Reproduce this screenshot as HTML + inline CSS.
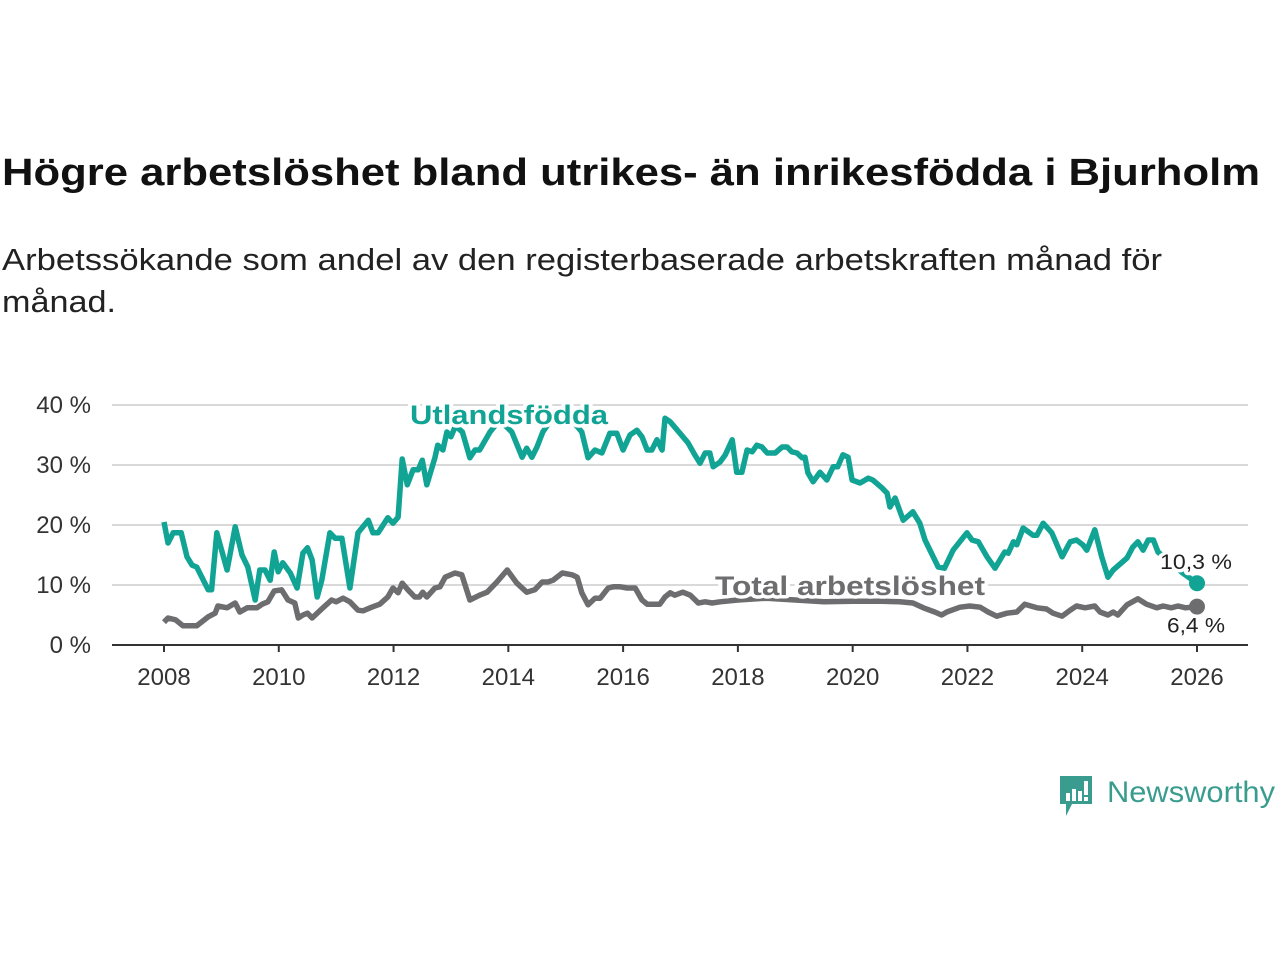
<!DOCTYPE html>
<html><head><meta charset="utf-8"><style>
html,body{margin:0;padding:0;background:#fff;width:1280px;height:960px;overflow:hidden}
svg{display:block}
</style></head><body>
<svg id="chart" width="1280" height="960" viewBox="0 0 1280 960" font-family="'Liberation Sans', sans-serif">
<text x="2" y="185" font-size="38" font-weight="bold" fill="#111" textLength="1258" lengthAdjust="spacingAndGlyphs">Högre arbetslöshet bland utrikes- än inrikesfödda i Bjurholm</text>
<text x="2" y="270" font-size="31" fill="#222" textLength="1160" lengthAdjust="spacingAndGlyphs">Arbetssökande som andel av den registerbaserade arbetskraften månad för</text>
<text x="2" y="312" font-size="31" fill="#222" textLength="114" lengthAdjust="spacingAndGlyphs">månad.</text>
<g id="grid"></g><g id="xaxis"></g><g id="lines"></g><g id="labels"></g>
<g>
<path d="M1060 776 h32 v28 h-20 l-6 12 v-12 h-6 z" fill="#3a9c8f"/>
<rect x="1066" y="793" width="4" height="8" fill="#fff"/><rect x="1072" y="789" width="4" height="12" fill="#fff"/><rect x="1078" y="791" width="4" height="10" fill="#fff"/><rect x="1084" y="781" width="4" height="14" fill="#fff"/><rect x="1084" y="797" width="4" height="4" fill="#fff"/>
<text x="1107" y="802" font-size="30" fill="#3a9c8f" textLength="168" lengthAdjust="spacingAndGlyphs">Newsworthy</text>
</g>
</svg>
<script>
const yTicks=[0,10,20,30,40];
const xTicks=[2008,2010,2012,2014,2016,2018,2020,2022,2024,2026];
const foreignT=[2008.0,2008.07,2008.16,2008.3,2008.4,2008.49,2008.57,2008.77,2008.83,2008.92,2009.1,2009.24,2009.36,2009.46,2009.59,2009.67,2009.76,2009.85,2009.92,2009.99,2010.07,2010.2,2010.32,2010.42,2010.5,2010.58,2010.67,2010.75,2010.89,2010.98,2011.1,2011.24,2011.38,2011.56,2011.64,2011.73,2011.9,2011.99,2012.08,2012.15,2012.24,2012.34,2012.43,2012.5,2012.58,2012.72,2012.77,2012.86,2012.93,2013.0,2013.08,2013.2,2013.33,2013.42,2013.5,2013.68,2013.85,2014.06,2014.24,2014.32,2014.41,2014.5,2014.6,2014.78,2014.95,2015.15,2015.28,2015.39,2015.51,2015.63,2015.77,2015.89,2016.0,2016.12,2016.24,2016.33,2016.42,2016.5,2016.59,2016.68,2016.73,2016.82,2016.99,2017.13,2017.25,2017.34,2017.43,2017.51,2017.57,2017.69,2017.78,2017.9,2017.98,2018.07,2018.16,2018.25,2018.33,2018.42,2018.51,2018.65,2018.77,2018.86,2018.94,2019.03,2019.12,2019.17,2019.22,2019.31,2019.43,2019.55,2019.66,2019.74,2019.83,2019.92,2019.99,2020.13,2020.27,2020.35,2020.51,2020.6,2020.65,2020.74,2020.88,2021.05,2021.17,2021.26,2021.49,2021.6,2021.75,2021.99,2022.08,2022.19,2022.34,2022.48,2022.65,2022.71,2022.8,2022.86,2022.97,2023.14,2023.21,2023.32,2023.47,2023.65,2023.79,2023.9,2024.01,2024.08,2024.22,2024.34,2024.45,2024.54,2024.78,2024.88,2024.97,2025.06,2025.15,2025.24,2025.32,2025.5,2025.75,2026.0];
const foreignV=[20.5,17,18.7,18.7,14.7,13.3,13,9.2,9.2,18.7,12.5,19.7,15,13,7.5,12.5,12.5,10.8,15.5,12.2,13.7,12,9.5,15.3,16.2,14.2,8,10.8,18.7,17.8,17.8,9.5,18.7,20.8,18.7,18.7,21.2,20.3,21.3,31,26.7,29.2,29.2,30.8,26.7,31.2,33.3,32.5,35.5,34.7,36.5,35.5,31.2,32.5,32.5,35.5,37.5,35.5,31.3,32.8,31.3,33,35.5,38,39,37,35.5,31.2,32.5,32,35.3,35.3,32.5,35,35.8,34.7,32.5,32.5,34.2,32.5,37.8,37.2,35.3,33.7,31.7,30.3,32,32,29.7,30.5,31.7,34.2,28.8,28.8,32.5,32.2,33.3,33,32,32,33,33,32.2,32,31.2,31.3,28.7,27.2,28.8,27.5,29.7,29.7,31.7,31.3,27.5,27,27.8,27.5,26.2,25.3,23,24.5,20.8,22.2,20.3,17.5,13,12.8,15.8,18.7,17.5,17.2,14.7,12.8,15.5,15.3,17.2,16.7,19.5,18.3,18.3,20.3,18.7,14.7,17.2,17.5,16.7,15.8,19.2,14.7,11.3,12.5,14.5,16.3,17.2,15.8,17.5,17.5,15.5,14,12,10.3];
const totalT=[2008.0,2008.07,2008.2,2008.33,2008.57,2008.77,2008.89,2008.94,2009.1,2009.24,2009.32,2009.45,2009.62,2009.71,2009.81,2009.92,2010.05,2010.16,2010.28,2010.34,2010.42,2010.5,2010.58,2010.77,2010.92,2011.0,2011.12,2011.24,2011.38,2011.47,2011.62,2011.76,2011.9,2011.99,2012.08,2012.15,2012.25,2012.37,2012.45,2012.51,2012.58,2012.72,2012.81,2012.9,2013.07,2013.19,2013.33,2013.5,2013.63,2013.8,2013.98,2014.15,2014.32,2014.46,2014.59,2014.69,2014.78,2014.94,2015.11,2015.2,2015.28,2015.39,2015.51,2015.6,2015.74,2015.83,2015.95,2016.07,2016.21,2016.33,2016.42,2016.52,2016.64,2016.73,2016.82,2016.9,2017.04,2017.17,2017.31,2017.43,2017.55,2017.69,2018.0,2018.5,2019.0,2019.5,2020.0,2020.5,2020.82,2021.05,2021.23,2021.43,2021.55,2021.64,2021.87,2022.04,2022.22,2022.36,2022.51,2022.69,2022.86,2023.0,2023.21,2023.38,2023.49,2023.65,2023.79,2023.9,2024.05,2024.22,2024.31,2024.45,2024.54,2024.62,2024.78,2024.97,2025.12,2025.3,2025.41,2025.55,2025.67,2025.8,2026.0];
const totalV=[3.8,4.5,4.2,3.2,3.2,4.7,5.3,6.5,6.2,7,5.5,6.2,6.2,6.8,7.2,9,9.2,7.5,7,4.5,5,5.3,4.5,6.2,7.5,7.2,7.8,7.2,5.8,5.7,6.3,6.8,8,9.5,8.7,10.3,9.2,8,8,8.8,8,9.5,9.7,11.3,12,11.7,7.5,8.3,8.8,10.5,12.5,10.3,8.8,9.2,10.5,10.5,10.8,12,11.7,11.3,8.7,6.7,7.8,7.8,9.5,9.7,9.7,9.5,9.5,7.5,6.8,6.8,6.8,8,8.7,8.3,8.8,8.3,7,7.2,7,7.2,7.5,7.8,7.5,7.2,7.3,7.3,7.2,7,6.2,5.5,5,5.5,6.3,6.5,6.3,5.5,4.8,5.3,5.5,6.8,6.2,6,5.3,4.8,5.8,6.5,6.2,6.5,5.5,5,5.5,5,6.7,7.7,6.8,6.2,6.5,6.2,6.5,6.2,6.4];

const NS='http://www.w3.org/2000/svg';
const X0=112,X1=1248;
function xs(t){return 164+(t-2008)*(1197-164)/18;}
function ys(v){return 645-v*6;}
function mk(tag,attrs,parent){const e=document.createElementNS(NS,tag);for(const k in attrs)e.setAttribute(k,attrs[k]);parent.appendChild(e);return e;}
const grid=document.getElementById('grid'),xa=document.getElementById('xaxis'),lines=document.getElementById('lines'),labels=document.getElementById('labels');
yTicks.forEach(v=>{
  const l=mk('line',{x1:X0,x2:X1,y1:ys(v),y2:ys(v),stroke:v===0?'#333':'#d9d9d9','stroke-width':2},grid);
  
  
  const t=mk('text',{x:91,y:ys(v)+8,'text-anchor':'end','font-size':24,fill:'#333'},grid);
  t.textContent=v+' %';
  
  
});
xTicks.forEach(y=>{
  const l=mk('line',{x1:xs(y),x2:xs(y),y1:645,y2:652,stroke:'#333','stroke-width':2},xa);
  
  
  const t=mk('text',{x:xs(y),y:685,'text-anchor':'middle','font-size':24,fill:'#333'},xa);
  t.textContent=y;
  
  
});
function path(T,V){return T.map((t,i)=>(i?'L':'M')+xs(t).toFixed(1)+' '+ys(V[i]).toFixed(1)).join(' ');}
const pt=mk('path',{d:path(totalT,totalV),fill:'none',stroke:'#6d6d6f','stroke-width':5.5,'stroke-linejoin':'round'},lines);


const pf=mk('path',{d:path(foreignT,foreignV),fill:'none',stroke:'#11a495','stroke-width':5.5,'stroke-linejoin':'round'},lines);


function lbl(x,y,txt,size,fill,bold,name,len){
  const t=mk('text',{x:x,y:y,'font-size':size,fill:fill,'font-weight':bold?'bold':'normal',stroke:'#fff','stroke-width':7,'paint-order':'stroke','stroke-linejoin':'round'},labels);
  if(len){t.setAttribute('textLength',len);t.setAttribute('lengthAdjust','spacingAndGlyphs');}
  t.textContent=txt;
  
  
  return t;
}
lbl(410,424,'Utlandsfödda',27,'#11a495',true,'foreign-born-label',198);
lbl(715,595,'Total arbetslöshet',27,'#6d6d6f',true,'total-label',270);
const lf=foreignV[foreignV.length-1],lt=totalV[totalV.length-1];
const d1=mk('circle',{cx:xs(2026),cy:ys(lf),r:8,fill:'#11a495'},labels);


const d2=mk('circle',{cx:xs(2026),cy:ys(lt),r:8,fill:'#6d6d6f'},labels);


lbl(1160,ys(lf)-14,String(lf).replace('.',',')+' %',21,'#222',false,'foreign-born-value',72);
lbl(1167,ys(lt)+26,String(lt).replace('.',',')+' %',21,'#222',false,'total-value',58);
</script>
</body></html>
